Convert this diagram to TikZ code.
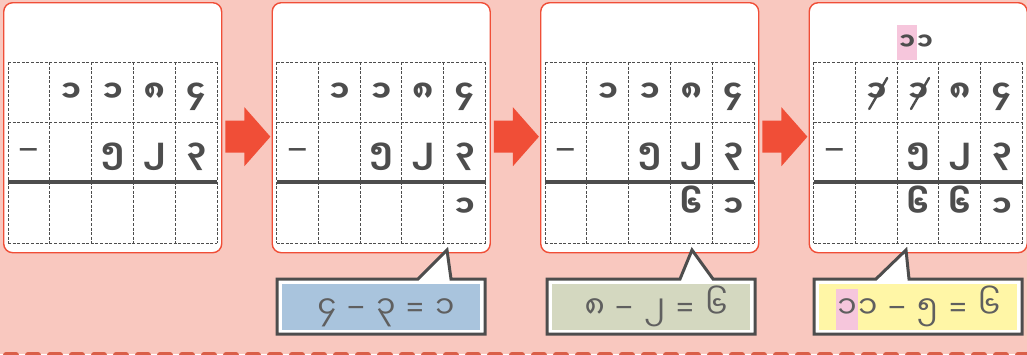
\documentclass[tikz,border=0pt]{standalone}
\usepackage{fontspec}
\newfontfamily\mmfont[Script=Myanmar]{Noto Sans Myanmar UI}
\newfontfamily\signfont{Noto Sans}
\usepackage{tikz}
\usetikzlibrary{positioning, calc}
\definecolor{bg}{HTML}{F9C8BF}
\definecolor{brand}{HTML}{F04E37}
\definecolor{ink}{HTML}{4D4D4D}
\definecolor{dotline}{HTML}{DA5F48}
\definecolor{noteblue}{HTML}{A9C4DD}
\definecolor{notegreen}{HTML}{D4D8C0}
\definecolor{noteyellow}{HTML}{FFF6A6}
\definecolor{hilite}{HTML}{F6C6DC}
\newcommand{\hl}[3]{{\setlength\fboxsep{0pt}\colorbox{hilite}{\rule[-#2]{0pt}{#3}\hspace{1.5pt}#1\hspace{1.5pt}}}}
\newcommand{\minus}{{\signfont\bfseries\fontsize{36}{36}\selectfont −}}
\newcommand{\thinminus}{{\signfont −}}

\begin{document}
\begin{tikzpicture}[x=1pt, y=-1pt,
  every node/.style={inner sep=0pt, text=ink},
  panel/.style={draw=brand, fill=white, rounded corners=9pt, line width=1.4pt,
                minimum width=218pt, minimum height=250pt, anchor=north west},
  gridline/.style={draw=ink, dash pattern=on 3pt off 1.6pt, line width=1pt},
  sumline/.style={draw=ink, line width=3.2pt},
  digit/.style={font=\mmfont\bfseries\fontsize{30}{30}\selectfont, anchor=base},
  carry/.style={font=\mmfont\bfseries\fontsize{24}{24}\selectfont, anchor=base},
  bubble/.style={draw=ink, fill=white, line width=3pt, line join=miter},
  note/.style={minimum width=198pt, minimum height=46pt},
  notetext/.style={font=\mmfont\fontsize{31}{31}\selectfont, text=ink!90, anchor=base},
  strike/.style={draw=ink, line width=2.4pt, line cap=round},
]
\useasboundingbox (0,0) rectangle (1027,354);
\fill[bg] (0,0) rectangle (1027,354);

% Panels with the subtraction grid
\foreach \p in {1,...,4} {
  \pgfmathsetmacro\L{3+268.5*(\p-1)}
  \node[panel] (panel\p) at (\L,2) {};
  \foreach \k in {0,...,5}
    \draw[gridline] (\L+5+41.8*\k,62) -- (\L+5+41.8*\k,243);
  \foreach \y in {62,122,243}
    \draw[gridline] (\L+5,\y) -- (\L+214,\y);
  \draw[sumline] (\L+5,182) -- (\L+214,182);
  % top number and the one to take away
  \foreach \d [count=\c from 2] in {၁,၁,၈,၄}
    \node[digit] (top-\p-\c) at (\L+5+41.8*\c-20.9,102) {\d};
  \node[digit] (minus-\p) at (\L+5+20.9,162) {\minus};
  \foreach \d [count=\c from 3] in {၅,၂,၃}
    \node[digit] (low-\p-\c) at (\L+5+41.8*\c-20.9,162) {\d};
}

% Arrows between panels
\foreach \i in {1,2,3}
  \fill[brand] ($(panel\i.east)+(3,-7)$) -- ++(19,0) -- ++(0,-13.5) -- ++(26,29.5)
    -- ++(-26,29.5) -- ++(0,-13.5) -- ++(-19,0) -- cycle;

% Results
\node[digit] (res-2-5) at (464.6,217) {၁};
\node[digit] (res-3-4) at (691.3,217) {၆};
\node[digit] (res-3-5) at (733.1,217) {၁};
\node[digit] (res-4-3) at (918,217) {၆};
\node[digit] (res-4-4) at (959.8,217) {၆};
\node[digit] (res-4-5) at (1001.6,217) {၁};

% Borrowing in the last panel
\draw[strike] ($(top-4-2.base)+(-7,7)$) -- ++(18,-31);
\draw[strike] ($(top-4-3.base)+(-7,7)$) -- ++(18,-31);
\node[carry] (borrow) at (915,50) {\hl{၁}{10pt}{35pt}၁};

% Speech bubbles
\draw[bubble] (277,279) -- (418,279) -- (447,250) -- (451,279) -- (485,279)
  -- (485,334) -- (277,334) -- cycle;
\node[note, fill=noteblue] (note2) at (381,306.5) {};
\node[notetext] (eq2) at (386,318)
  {၄\hspace{11pt}\thinminus\hspace{11pt}၃\hspace{11pt}{\signfont =}\hspace{11pt}၁};

\draw[bubble] (547,279) -- (680,279) -- (692,250) -- (713,279) -- (755,279)
  -- (755,334) -- (547,334) -- cycle;
\node[note, fill=notegreen] (note3) at (651,306.5) {};
\node[notetext] (eq3) at (656,318)
  {၈\hspace{11pt}\thinminus\hspace{11pt}၂\hspace{11pt}{\signfont =}\hspace{11pt}၆};

\draw[bubble] (814,279) -- (876,279) -- (906,250) -- (909,279) -- (1022,279)
  -- (1022,334) -- (814,334) -- cycle;
\node[note, fill=noteyellow] (note4) at (918,306.5) {};
\node[notetext] (eq4) at (918,318)
  {\hl{၁}{12pt}{41pt}၁\hspace{11pt}\thinminus\hspace{11pt}၅\hspace{11pt}{\signfont =}\hspace{11pt}၆};

% Dashed edge at the bottom
\draw[dotline, line width=6pt, line cap=round, dash pattern=on 10pt off 12pt]
  (6,355) -- (1030,355);
\end{tikzpicture}
\end{document}
